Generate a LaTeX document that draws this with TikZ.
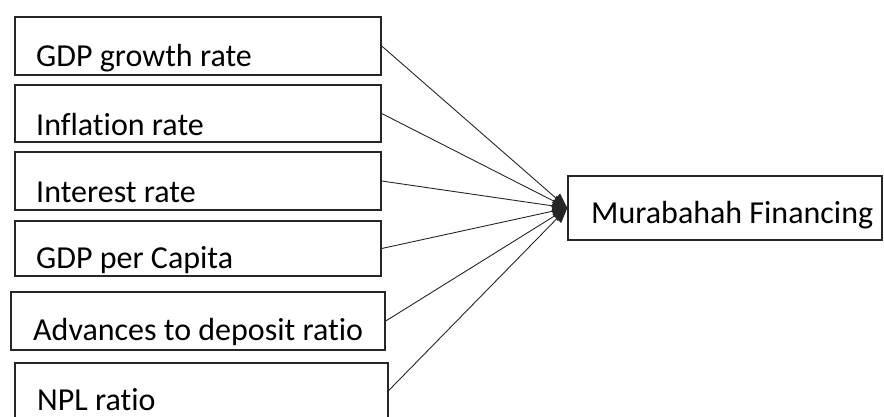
\documentclass[tikz,border=0pt]{standalone}
\usepackage{fontspec}
\setmainfont[Ligatures=NoCommon]{Carlito}
\usetikzlibrary{arrows.meta}
\tikzset{
  factor/.style={draw=black!85, line width=1.4pt, rectangle, inner sep=0pt},
  lbl/.style={anchor=base west, inner sep=0pt, font=\fontsize{32}{38}\selectfont},
  link/.style={draw=black!85, line width=0.9pt, -{Triangle[length=15pt, width=12pt]}},
}
\begin{document}
\begin{tikzpicture}[x=1pt, y=-1pt]
  \useasboundingbox (0,0) rectangle (884,416);
  % independent variables (left column)
  \node[factor, minimum width=366pt, minimum height=58pt] (gdpg) at (198,46) {};
  \node[factor, minimum width=366pt, minimum height=57pt] (infl) at (198,113.5) {};
  \node[factor, minimum width=366pt, minimum height=58pt] (intr) at (198,181) {};
  \node[factor, minimum width=366pt, minimum height=55pt] (gdpc) at (198,248.5) {};
  \node[factor, minimum width=374pt, minimum height=58pt] (adr)  at (198,321) {};
  \node[factor, minimum width=373pt, minimum height=55pt] (npl)  at (201.5,390.5) {};
  \node[lbl] at (36,66)  {GDP growth rate};
  \node[lbl] at (36,135) {Inflation rate};
  \node[lbl] at (36,202) {Interest rate};
  \node[lbl] at (36,268) {GDP per Capita};
  \node[lbl] at (33,340) {Advances to deposit ratio};
  \node[lbl, text depth=0pt] at (37,410.5) {NPL ratio};
  % dependent variable
  \node[factor, minimum width=314pt, minimum height=64pt] (mf) at (725,208) {};
  \node[lbl] at (591,223) {Murabahah Financing};
  % connectors
  \foreach \src in {gdpg,infl,intr,gdpc,adr,npl}
    \draw[link] (\src.east) -- (mf.west);
\end{tikzpicture}
\end{document}
